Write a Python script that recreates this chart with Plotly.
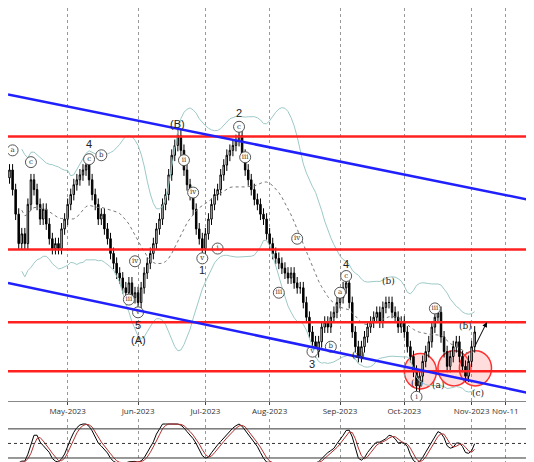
import numpy as np, pandas as pd
import plotly.graph_objects as go
from plotly.subplots import make_subplots

# closing levels (pixel height from top, converted to price below)
close_px = [165,185,210,240,230,240,200,175,
            185,200,215,205,220,235,245,240,245,
            225,215,200,190,180,175,170,165,160,
            175,190,200,215,210,225,
            235,250,260,270,275,285,290,
            280,295,290,300,
            285,270,260,250,
            240,225,215,200,190,
            170,150,140,130,
            145,165,180,190,
            205,225,235,245,
            230,215,200,190,
            185,170,160,150,145,140,135,130,
            150,165,175,
            185,195,200,210,215,
            230,240,250,255,260,
            265,270,275,270,280,285,285,
            300,315,330,340,350,
            340,325,320,325,315,
            310,300,295,285,280,
            300,330,345,355,
            345,335,325,320,315,
            310,320,305,300,300,
            310,315,325,320,
            330,345,355,370,385,
            375,360,350,340,
            325,315,310,
            335,350,365,
            355,345,340,
            355,365,375,
            360,345,330]
all_dates = pd.bdate_range("2023-04-04", periods=260)
dates = all_dates[:len(close_px)]
price = 400 - np.array(close_px, float)
opens = np.concatenate([[price[0] - 8], price[:-1]])
wick = 6
highs = np.maximum(opens, price) + wick
lows = np.minimum(opens, price) - wick

tick_vals = ["2023-05-01", "2023-06-01", "2023-07-03", "2023-08-01", "2023-09-01", "2023-10-02", "2023-11-01", "2023-11-16"]
tick_text = ["May-2023", "Jun-2023", "Jul-2023", "Aug-2023", "Sep-2023", "Oct-2023", "Nov-2023", "Nov-11"]
red_levels = [269, 154, 80, 30]

big_labels = [(26, 261, "4"), (55, 282, "(B)"), (75, 293, "2"), (42, 77, "5"), (42, 62, "(A)"),
              (63, 133, "1"), (99, 37, "3"), (110, 139, "4")]
circ_labels = [(26, 246, "c"), (75, 279, "c"), (42, 90, "v"), (63, 145, "v"), (99, 50, "v"),
               (110, 127, "c"), (139, 94, "iii"), (133, 4, "i"), (77, 248, "iii"), (39, 103, "iii"),
               (94, 165, "iv"), (105, 55, "b"), (88, 110, "iii"), (41, 142, "iv"), (1, 255, "a"),
               (7, 243, "c"), (30, 250, "b"), (57, 245, "ii"), (60, 212, "iv"), (68, 155, "i"), (108, 110, "a")]
plain_labels = [(124, 122, "(b)"), (149, 76, "(b)"), (133, 18, "(c)"), (140, 16, "(a)"),
                (114, 47, "(a)"), (153, 8, "(c)")]
red_circles = [(134, 30), (145, 33), (152, 33)]

s = pd.Series(price)
mid = s.rolling(20, min_periods=5).mean()
sd = s.rolling(20, min_periods=5).std()
lo14 = s.rolling(18, min_periods=3).min(); hi14 = s.rolling(18, min_periods=3).max()
k = (10 + 80 * (s - lo14) / (hi14 - lo14).replace(0, np.nan)).rolling(3, min_periods=1).mean()
d = k.rolling(3, min_periods=1).mean()

fig = make_subplots(rows=2, cols=1)
fig.add_trace(go.Candlestick(x=dates, open=opens, high=highs, low=lows, close=price,
    increasing=dict(line=dict(color="black", width=1), fillcolor="white"),
    decreasing=dict(line=dict(color="black", width=1), fillcolor="black"), whiskerwidth=0), 1, 1)
fig.add_trace(go.Scatter(x=dates, y=mid + 2 * sd, mode="lines", line=dict(color="#9cc9c6", width=1)), 1, 1)
fig.add_trace(go.Scatter(x=dates, y=mid - 2 * sd, mode="lines", line=dict(color="#9cc9c6", width=1)), 1, 1)
fig.add_trace(go.Scatter(x=dates, y=mid, mode="lines", line=dict(color="#777", width=1, dash="dot")), 1, 1)

fig.add_trace(go.Scatter(x=[all_dates[i] for i, _, _ in circ_labels], y=[p for _, p, _ in circ_labels],
    mode="markers+text", text=[t for _, _, t in circ_labels], textposition="middle center",
    textfont=dict(size=7, color="#333", family="DejaVu Serif"),
    marker=dict(symbol="circle", size=11, color="white", line=dict(color="#555", width=1))), 1, 1)
for i, y, t in big_labels:
    fig.add_annotation(x=all_dates[i], y=y, text=t, showarrow=False, font=dict(size=11, color="#222", family="Liberation Sans"), row=1, col=1)
for i, y, t in plain_labels:
    fig.add_annotation(x=all_dates[i], y=y, text=t, showarrow=False, font=dict(size=9, color="#222", family="DejaVu Serif"), row=1, col=1)

fig.add_trace(go.Scatter(x=dates, y=k, mode="lines", line=dict(color="black", width=1)), 2, 1)
fig.add_trace(go.Scatter(x=dates, y=d, mode="lines", line=dict(color="#b03030", width=1)), 2, 1)

for i, y in red_circles:
    fig.add_shape(type="circle", xref="x", yref="y", x0=all_dates[i - 5], x1=all_dates[i + 5] + pd.Timedelta(hours=12),
                  y0=y - 18, y1=y + 18, line=dict(color="#ff3030", width=1.5), fillcolor="rgba(255,120,120,0.25)", layer="below")
for lv in red_levels:
    fig.add_shape(type="line", xref="x domain", yref="y", x0=0, x1=1, y0=lv, y1=lv, line=dict(color="#ff2020", width=2.5))
fig.add_shape(type="line", xref="x domain", yref="y", x0=0, x1=1, y0=312, y1=202, line=dict(color="#2020ff", width=2.5))
fig.add_shape(type="line", xref="x domain", yref="y", x0=0, x1=1, y0=120, y1=5, line=dict(color="#2020ff", width=2.5))
fig.add_annotation(x=all_dates[156], y=80, ax=all_dates[152], ay=55, xref="x", yref="y", axref="x", ayref="y",
                   showarrow=True, arrowhead=2, arrowsize=1, arrowwidth=1, arrowcolor="black", text="")
for lv, dash in [(80, "solid"), (50, "dot"), (20, "solid")]:
    fig.add_shape(type="line", xref="x2 domain", yref="y2", x0=0, x1=1, y0=lv, y1=lv, line=dict(color="#333", width=1, dash=dash))

xr = [all_dates[0] - pd.Timedelta(hours=12), all_dates[174]]
fig.update_xaxes(range=xr, tickvals=tick_vals, ticktext=tick_text, showgrid=True, gridcolor="#999",
                 griddash="dot", gridwidth=1, tickfont=dict(size=8, color="#333"), rangeslider_visible=False,
                 showline=True, linecolor="#888", ticks="outside", ticklen=3, tickangle=0,
                 rangebreaks=[dict(bounds=["sat", "mon"])], mirror=False)
fig.update_xaxes(showticklabels=False, ticks="", row=2, col=1)
fig.update_yaxes(range=[0, 400], showticklabels=False, showgrid=False, domain=[0.15, 1], row=1, col=1)
fig.update_yaxes(range=[0, 100], showticklabels=False, showgrid=False, domain=[0.005, 0.11], row=2, col=1)
fig.update_layout(width=534, height=462, margin=dict(l=0, r=0, t=0, b=0), showlegend=False,
                  plot_bgcolor="white", paper_bgcolor="white")
fig.write_html("out.html")
